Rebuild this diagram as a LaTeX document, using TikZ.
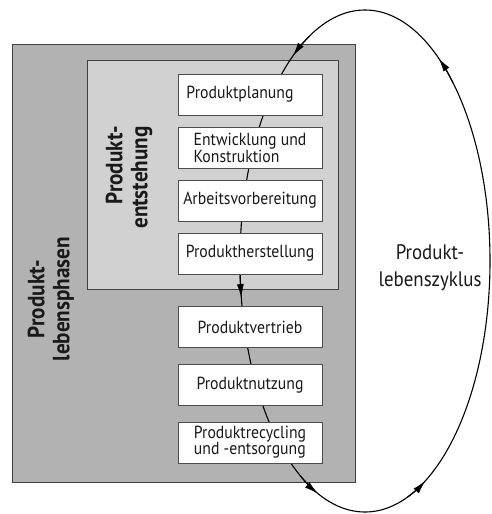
\documentclass[tikz,border=0pt]{standalone}
\usepackage{fontspec}
\setmainfont{PT Sans}[FakeStretch=0.9]
\usetikzlibrary{arrows.meta}

\definecolor{outergray}{gray}{0.70}
\definecolor{innergray}{gray}{0.82}
\definecolor{ink}{gray}{0.10}

\tikzset{
  phasebox/.style={draw=black!70, line width=0.6pt, fill=white,
    minimum width=144pt, minimum height=41pt, inner sep=0pt,
    align=left, text=ink, font=\fontsize{17.5}{16}\selectfont},
  grouplabel/.style={rotate=90, text=ink, inner sep=0pt,
    font=\bfseries\fontsize{23.5}{25}\selectfont},
  cyclelabel/.style={text=ink, inner sep=0pt, align=center,
    font=\fontsize{21}{27}\selectfont},
  cycleline/.style={draw=black, line width=1.1pt},
  cycletip/.style={-{Latex[length=14pt,width=7pt]}},
}

\begin{document}
\begin{tikzpicture}[x=1pt,y=-1pt]
  \useasboundingbox (0,0) rectangle (491,514);

  % life phases and product development areas
  \draw[draw=black!75, line width=1pt, fill=outergray] (12,44) rectangle (355,482);
  \draw[draw=black!75, line width=0.9pt, fill=innergray] (87,60) rectangle (338,289);

  \node[grouplabel, align=center] (lebensphasen) at (51,299) {Produkt-\\lebensphasen};
  \node[grouplabel, align=right] (entstehung) at (129,177.5) {Produkt-\\entstehung};

  % life cycle loop
  \coordinate (c) at (365,261);
  \draw[cycleline] (c) ellipse [x radius=125, y radius=251];
  \foreach \t in {234.7,171.5,112,61,306}
    \draw[cycleline, cycletip]
      ([shift={(c)}]\t+9:125 and 251)
      arc[start angle=\t+9, end angle=\t, x radius=125, y radius=251];

  \node[cyclelabel] (zyklus) at (430,268) {Produkt-\\lebenszyklus};

  % individual phases
  \node[phasebox] (planung)  at (250,94.5)  {\hspace*{-20pt}Produktplanung};
  \node[phasebox] (entw)     at (250,147.5) {Entwicklung und\\Konstruktion};
  \node[phasebox] (arbeit)   at (250,200.5) {Arbeitsvorbereitung};
  \node[phasebox] (herst)    at (250,253.5) {Produktherstellung};
  \node[phasebox] (vertrieb) at (250,327)   {Produktvertrieb};
  \node[phasebox] (nutzung)  at (250,385)   {Produktnutzung};
  \node[phasebox] (recycl)   at (250,442.5) {Produktrecycling\\und -entsorgung};
\end{tikzpicture}
\end{document}
